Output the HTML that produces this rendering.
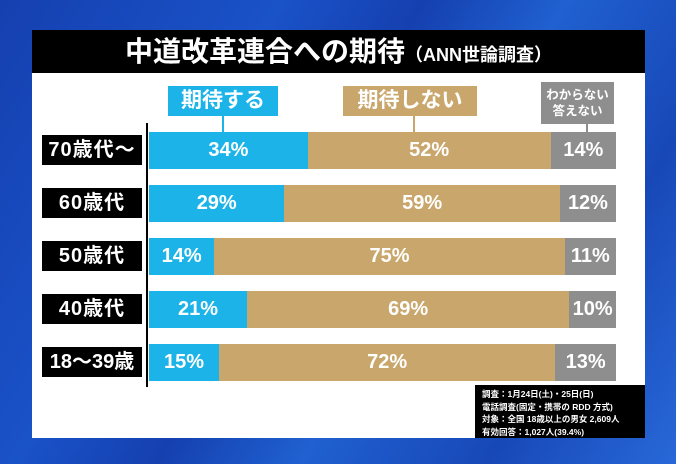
<!DOCTYPE html>
<html><head><meta charset="utf-8"><style>
body{margin:0;width:676px;height:464px;overflow:hidden;position:relative;font-family:"Liberation Sans","Noto Sans CJK JP",sans-serif;
background:linear-gradient(120deg,#1540b0 0%,#1a52c8 30%,#1540b0 45%,#2060d0 60%,#1848b8 80%,#2868d8 100%);}
.a{position:absolute}
.panel{left:32px;top:30px;width:613px;height:408px;background:#fff}
.title{left:32px;top:30px;width:613px;height:43px;background:#000;color:#fff;font-weight:bold;font-size:28px;line-height:43px;text-align:center}
.title small{font-size:18px}
.leg{color:#fff;font-weight:bold;text-align:center}
.lab{left:42px;width:100px;height:30px;background:#000;color:#fff;font-weight:bold;font-size:20px;line-height:30px;text-align:center;letter-spacing:1px}
.bar{left:149px;width:467px;height:37px;display:flex}
.bar div{height:37px;color:#fff;font-weight:bold;font-size:20px;line-height:37px;text-align:center}
.b{background:#1cb4e8}.t{background:#c9a76c}.g{background:#8e8e8e}
.note{left:475px;top:385px;width:170px;height:53px;background:#000;color:#fff;font-size:8.5px;font-weight:bold;line-height:12.5px;padding:3px 0 0 7px;box-sizing:border-box;white-space:nowrap}
</style></head><body>
<div class="a panel"></div>
<div class="a title">中道改革連合への期待<small>（ANN世論調査）</small></div>
<div class="a leg b" style="left:168px;top:86px;width:110px;height:30px;font-size:21px;line-height:30px">期待する</div>
<div class="a leg t" style="left:343px;top:86px;width:134px;height:30px;font-size:21px;line-height:30px">期待しない</div>
<div class="a leg g" style="left:541px;top:82px;width:73px;height:42px;font-size:12.5px;line-height:16px;padding-top:5px;box-sizing:border-box">わからない<br>答えない</div>
<div class="a" style="left:222px;top:116px;width:2px;height:16px;background:#1cb4e8"></div>
<div class="a" style="left:413px;top:116px;width:2px;height:16px;background:#c9a76c"></div>
<div class="a" style="left:586px;top:124px;width:2px;height:8px;background:#8e8e8e"></div>
<div class="a" style="left:146px;top:123px;width:2px;height:264px;background:#000"></div>

<div class="a lab" style="top:135px">70歳代～</div>
<div class="a bar" style="top:132px"><div class="b" style="width:34%">34%</div><div class="t" style="width:52%">52%</div><div class="g" style="width:14%">14%</div></div>
<div class="a lab" style="top:188px">60歳代</div>
<div class="a bar" style="top:185px"><div class="b" style="width:29%">29%</div><div class="t" style="width:59%">59%</div><div class="g" style="width:12%">12%</div></div>
<div class="a lab" style="top:241px">50歳代</div>
<div class="a bar" style="top:238px"><div class="b" style="width:14%">14%</div><div class="t" style="width:75%">75%</div><div class="g" style="width:11%">11%</div></div>
<div class="a lab" style="top:294px">40歳代</div>
<div class="a bar" style="top:291px"><div class="b" style="width:21%">21%</div><div class="t" style="width:69%">69%</div><div class="g" style="width:10%">10%</div></div>
<div class="a lab" style="top:347px;letter-spacing:0">18～39歳</div>
<div class="a bar" style="top:344px"><div class="b" style="width:15%">15%</div><div class="t" style="width:72%">72%</div><div class="g" style="width:13%">13%</div></div>

<div class="a note">調査：1月24日(土)・25日(日)<br>電話調査(固定・携帯の RDD 方式)<br>対象：全国 18歳以上の男女 2,609人<br>有効回答：1,027人(39.4%)</div>
</body></html>
